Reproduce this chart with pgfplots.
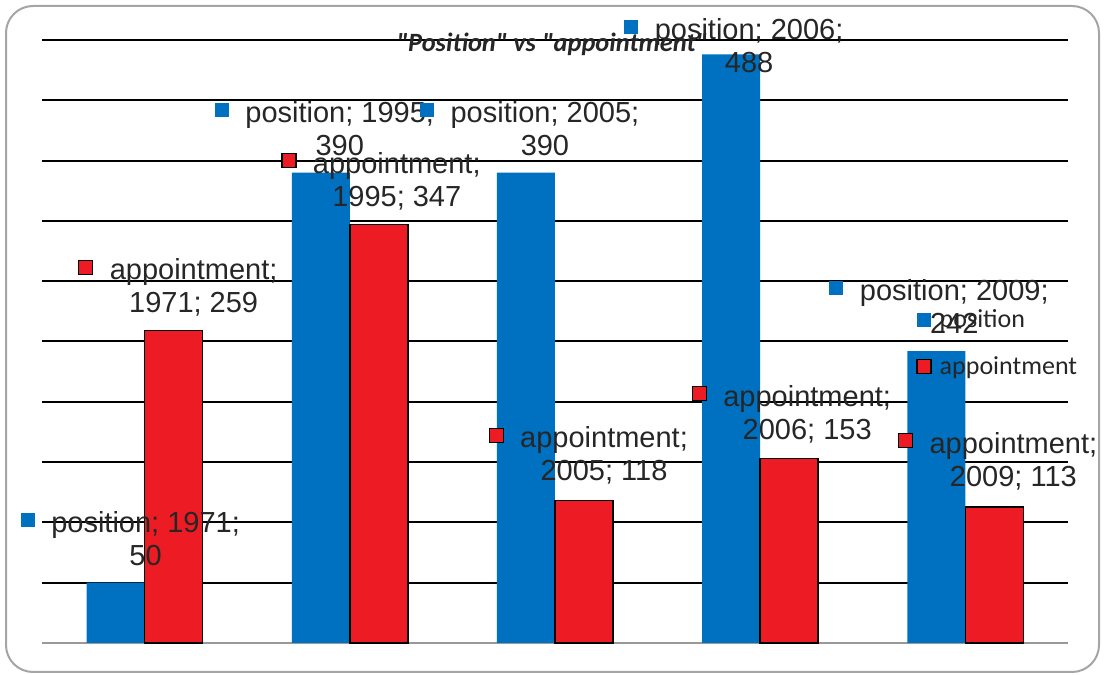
\documentclass[border=0pt]{standalone}
\usepackage{pgfplots}
\pgfplotsset{compat=1.18}
\usepackage{fontspec}
\setmainfont{Liberation Sans}
\newfontfamily\carlito{Carlito}
\definecolor{myblue}{RGB}{0,112,192}
\definecolor{myred}{RGB}{237,28,36}
\definecolor{txt}{RGB}{38,38,38}
\definecolor{framec}{RGB}{165,165,165}

\newcommand\dlab[5]{%
  \node[lbl, anchor=base] (L) at (axis cs:#1,#2) {#4};
  \node[lbl, anchor=base] at ([yshift=-16.5pt]L.base) {#5};
  \node[#3, anchor=east] at ([xshift=-8pt,yshift=6.25pt]L.base west) {};
}

\begin{document}
\begin{tikzpicture}[
 lbl/.style={font=\fontsize{14.5pt}{16.5pt}\selectfont, text=txt, inner sep=0pt},
 bmark/.style={rectangle, fill=myblue, minimum size=7pt, inner sep=0pt},
 rmark/.style={rectangle, fill=myred, draw=black, line width=0.6pt, minimum size=7pt, inner sep=0pt}]
\useasboundingbox (-21pt,-16pt) rectangle (531pt,321.5pt);
\draw[framec, line width=1pt, rounded corners=13.5pt] (-18pt,-14.5pt) rectangle (528.5pt,318.5pt);
\begin{axis}[
 at={(0pt,0pt)}, anchor=south west,
 scale only axis, width=513pt, height=301.5pt,
 xmin=-0.5, xmax=4.5, ymin=0, ymax=500,
 ybar=0pt, bar width=29pt,
 axis line style={draw=none},
 xtick=\empty, ytick={50,100,...,500}, yticklabels={},
 major tick length=0pt,
 ymajorgrids, grid style={black, line width=1pt},
 extra y ticks={0}, extra y tick labels={},
 extra y tick style={grid style={gray!80, line width=1pt}},
 clip=false,
 legend style={draw=none, fill=none, at={(0.8518,0.5605)}, anchor=north west,
   inner sep=0pt, font=\carlito\fontsize{13pt}{15pt}\selectfont, text=txt,
   row sep=9pt, column sep=0pt},
 legend cell align=left,
]
\addplot[fill=myblue, draw=none,
  legend image code/.code={\fill[myblue] (0pt,-3.5pt) rectangle (7pt,3.5pt); \path (9pt,0pt);}]
  coordinates {(0,50) (1,390) (2,390) (3,488) (4,242)};
\addplot[fill=myred, draw=black, line width=0.8pt,
  legend image code/.code={\draw[fill=myred, draw=black, line width=0.6pt] (0pt,-3.5pt) rectangle (7pt,3.5pt); \path (9pt,0pt);}]
  coordinates {(0,259) (1,347) (2,118) (3,153) (4,113)};
\legend{position, appointment}
\dlab{0.005}{92}{bmark}{position; 1971;}{50}
\dlab{0.951}{431.2}{bmark}{position; 1995;}{390}
\dlab{1.229}{389.7}{rmark}{appointment;}{1995; 347}
\dlab{1.951}{431.2}{bmark}{position; 2005;}{390}
\dlab{2.946}{500}{bmark}{position; 2006;}{488}
\dlab{0.239}{301}{rmark}{appointment;}{1971; 259}
\dlab{2.239}{161.7}{rmark}{appointment;}{2005; 118}
\dlab{3.229}{196.5}{rmark}{appointment;}{2006; 153}
\dlab{3.946}{284.4}{bmark}{position; 2009;}{242}
\dlab{4.234}{157.5}{rmark}{appointment;}{2009; 113}
\end{axis}
\node[font=\carlito\bfseries\itshape\fontsize{13.2pt}{15pt}\selectfont, text=txt, anchor=base] at (255pt,295.5pt) {"Position" vs "appointment"};
\end{tikzpicture}
\end{document}
